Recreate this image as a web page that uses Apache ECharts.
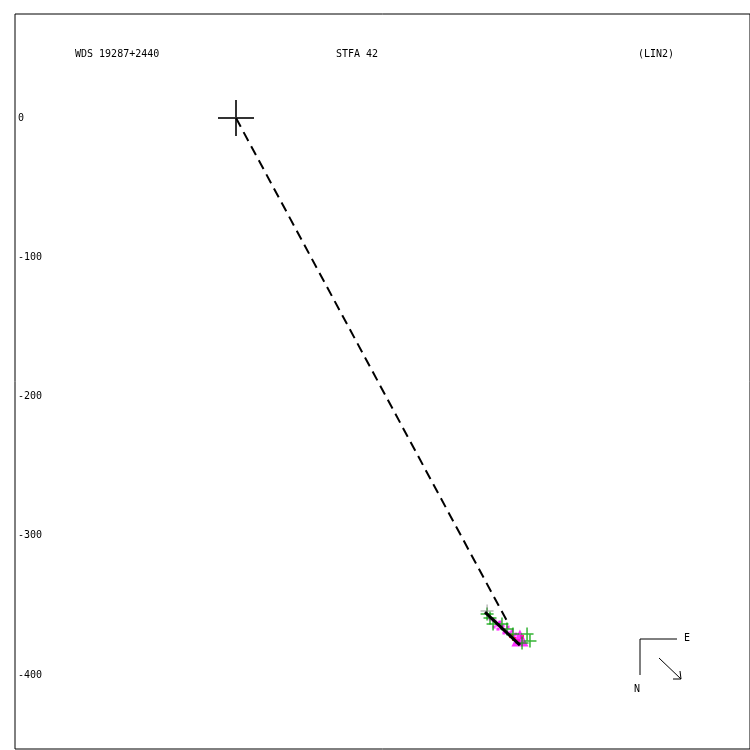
<!DOCTYPE html>
<html><head><meta charset="utf-8">
<script src="https://cdn.jsdelivr.net/npm/echarts@6/dist/echarts.min.js"></script>
<style>html,body{margin:0;padding:0;background:#fff}#c{width:750px;height:750px}</style>
</head><body><div id="c"></div>
<script>
// Data (offsets, same units on both axes)
const yTickLabels = [0, -100, -200, -300, -400];
const primary = [[0, 0]];
const dashedLine = [[0, 0], [194.6, -361.2]];
const orbitSegment = [[178.8, -354.8], [203.9, -378.5]];
const greenObs = [[180.3, -356.2], [182.4, -359.0], [184.6, -363.4], [191.0, -363.4], [194.6, -367.0], [198.9, -370.6], [209.0, -370.6], [205.4, -376.9], [211.1, -375.5]];
const greyObs = [[180.3, -354.0]];
const magentaObs = [[182.4, -359.7], [184.6, -360.5], [186.0, -361.2], [187.4, -364.1], [188.8, -362.6], [189.6, -361.9], [190.3, -366.2], [191.7, -364.8], [193.2, -367.7], [194.6, -369.1], [195.3, -365.5], [196.8, -369.8], [198.2, -368.4], [199.6, -372.0], [185.3, -365.5], [188.1, -367.0], [201.0, -370.6], [192.4, -369.8]];
const magentaBig = [[203.9, -373.4]];
const redObs = [[197.5, -372.0], [199.6, -374.1], [202.5, -375.5], [205.4, -372.7]];

const titleLeft = 'WDS 19287+2440';
const titleMid = 'STFA 42';
const titleRight = '(LIN2)';

const mono = 'DejaVu Sans Mono';
const plusPath = 'path://M50,0L50,100M0,50L100,50';

const chart = echarts.init(document.getElementById('c'));
chart.setOption({
  animation: false,
  backgroundColor: '#fff',
  grid: { left: 15, top: 14, right: 0, bottom: 1, show: true, borderColor: '#000', borderWidth: 1, containLabel: false },
  xAxis: { type: 'value', min: -158.7, max: 369.1, axisLine: { show: false }, axisTick: { show: false }, axisLabel: { show: false }, splitLine: { show: false } },
  yAxis: {
    type: 'value', min: -453.1, max: 74.7,
    axisLine: { show: false }, axisTick: { show: false }, splitLine: { show: false },
    axisLabel: { inside: true, margin: 3, align: 'left', customValues: yTickLabels, color: '#000', fontFamily: mono, fontSize: 10 }
  },
  title: [
    { text: titleLeft, left: 75, top: 49, padding: 0, textStyle: { fontFamily: mono, fontSize: 10, fontWeight: 'normal', color: '#000' } },
    { text: titleMid, left: 336, top: 49, padding: 0, textStyle: { fontFamily: mono, fontSize: 10, fontWeight: 'normal', color: '#000' } },
    { text: titleRight, left: 638, top: 49, padding: 0, textStyle: { fontFamily: mono, fontSize: 10, fontWeight: 'normal', color: '#000' } }
  ],
  graphic: [
    { type: 'polyline', shape: { points: [[677, 639], [640, 639], [640, 675]] }, style: { stroke: '#000', lineWidth: 1, fill: null } },
    { type: 'text', x: 684, y: 633, style: { text: 'E', font: '10px ' + mono, fill: '#000' } },
    { type: 'text', x: 634, y: 684, style: { text: 'N', font: '10px ' + mono, fill: '#000' } },
    { type: 'line', shape: { x1: 659, y1: 658, x2: 681, y2: 679 }, style: { stroke: '#000', lineWidth: 1 } },
    { type: 'polyline', shape: { points: [[673, 679], [681, 679], [680, 671]] }, style: { stroke: '#000', lineWidth: 1, fill: null } }
  ],
  series: [
    { type: 'line', data: dashedLine, symbol: 'none', lineStyle: { color: '#000', width: 2, type: [10, 6] }, z: 2 },
    { type: 'scatter', data: magentaObs, symbol: 'rect', symbolSize: 3, itemStyle: { color: '#ff00ff' }, z: 3 },
    { type: 'scatter', data: redObs, symbol: 'rect', symbolSize: 4, itemStyle: { color: '#ff0000' }, z: 3 },
    { type: 'scatter', data: magentaBig, symbol: 'triangle', symbolSize: 17, itemStyle: { color: '#ff00ff' }, z: 3 },
    { type: 'scatter', data: greenObs, symbol: plusPath, symbolSize: 13, itemStyle: { color: 'transparent', borderColor: '#00a000', borderWidth: 1.5 }, z: 4 },
    { type: 'scatter', data: greyObs, symbol: plusPath, symbolSize: 13, itemStyle: { color: 'transparent', borderColor: '#808080', borderWidth: 1 }, z: 4 },
    { type: 'line', data: orbitSegment, symbol: 'none', lineStyle: { color: '#000', width: 3 }, z: 5 },
    { type: 'scatter', data: primary, symbol: plusPath, symbolSize: 36, itemStyle: { color: 'transparent', borderColor: '#000', borderWidth: 2 }, z: 6 }
  ]
});
</script></body></html>
